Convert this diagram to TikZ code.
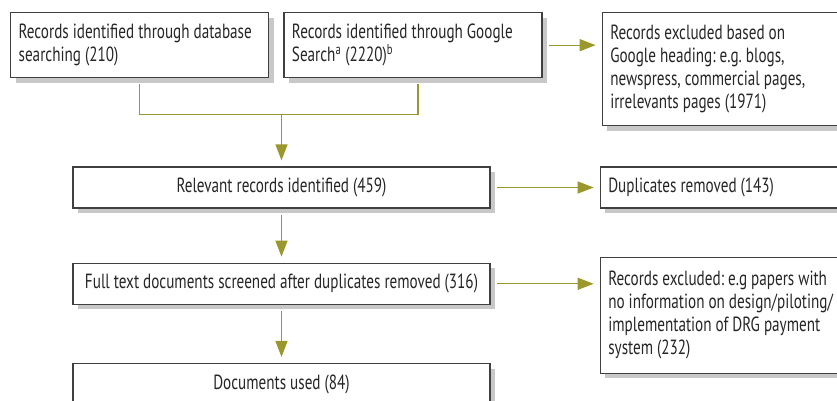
\documentclass[tikz,border=0pt]{standalone}
\usepackage{fontspec}
\setmainfont{PT Sans}[FakeStretch=0.74]
\usetikzlibrary{arrows.meta,positioning,shadows}
\definecolor{boxline}{HTML}{404040}
\definecolor{boxshadow}{HTML}{C8C8C8}
\definecolor{flowolive}{HTML}{9A982C}
\newcommand\tightspaces{\frenchspacing\spaceskip=4pt\relax}
\tikzstyle{record}=[
	rectangle,
	draw=boxline,
	line width=1.3pt,
	fill=white,
	text=black!85,
	font=\fontsize{20.5}{23}\selectfont,
	execute at begin node=\tightspaces,
	inner xsep=8pt,
	inner ysep=6pt,
	drop shadow={shadow xshift=5pt, shadow yshift=-5pt, fill=boxshadow, opacity=1}
]
\tikzstyle{source}=[record, text width=242pt, align=left, minimum height=65pt]
\tikzstyle{stage}=[record, inner xsep=4pt, text width=409pt, align=center, minimum height=41pt]
\tikzstyle{exclusion}=[record, text width=250pt, align=left]
\tikzstyle{link}=[
	draw=flowolive,
	line width=1.3pt,
	shorten <=6pt
]
\tikzstyle{flow}=[
	link,
	-{Triangle[length=16pt,width=12pt]},
	shorten >=6pt
]

\begin{document}
\begin{tikzpicture}[x=1pt,y=-1pt]
\useasboundingbox (0,0) rectangle (837,400);
\clip (0,0) rectangle (837,400);
\node [source, anchor=north west] (dbsearch) at (10,12) {Records identified through database\\searching (210)};
\node [source] (google)[right=14pt of dbsearch] {Records identified through Google\\Search\textsuperscript{a} (2220)\textsuperscript{b}};
\node [exclusion, minimum height=113pt] (googleexcl)[right=59pt of google.north east, anchor=north west] {Records excluded based on\\Google heading: e.g. blogs,\\newspress, commercial pages,\\irrelevants pages (1971)};
\node [stage] (relevant) at (281.5,187.5) {Relevant records identified (459)};
\node [exclusion, minimum height=41pt] (duplicates)[right=109pt of relevant.east, anchor=west] {Duplicates removed (143)};
\node [stage] (fulltext)[below=54pt of relevant] {Full text documents screened after duplicates removed (316)};
\node [exclusion, minimum height=116pt] (excluded)[right=109pt of fulltext.north east, anchor=north west, yshift=6pt] {Records excluded: e.g papers with\\no information on design/piloting/\\implementation of DRG payment\\system (232)};
\node [stage] (used)[below=58pt of fulltext] {Documents used (84)};
\coordinate [above=52pt of relevant.north] (join);
\draw [link] (dbsearch.south) |- (join);
\draw [link] ([xshift=5pt]google.south) |- (join);
\draw [flow, shorten <=0pt] (join) -- (relevant.north);
\draw [flow] (google.east) -- (google.east -| googleexcl.west);
\draw [flow] (relevant) -- (duplicates);
\draw [flow] (fulltext.east) -- (fulltext.east -| excluded.west);
\draw [flow] (relevant) -- (fulltext);
\draw [flow] (fulltext) -- (used);
\end{tikzpicture}
\end{document}
